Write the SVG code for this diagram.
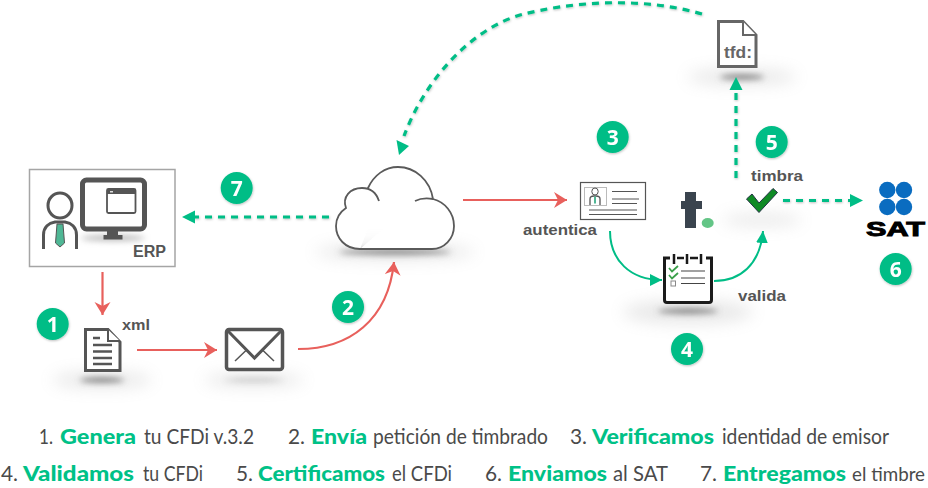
<svg xmlns="http://www.w3.org/2000/svg" width="928" height="488" viewBox="0 0 928 488">
<style>
.g{fill:#00bd86}
.ink{fill:none;stroke:#555;stroke-width:3}
.thin{fill:none;stroke:#555;stroke-width:1.3}
.lbl{font-family:"Liberation Sans",Arial,sans-serif;font-weight:700;fill:#555;font-size:15px}
.num{font-family:"Open Sans","Liberation Sans",sans-serif;font-weight:700;fill:#fff;font-size:21px;text-anchor:middle}
.t{font-family:"Lato","Open Sans",sans-serif;font-size:21px;fill:#4a4a4a}
.b{font-family:"Lato","Open Sans",sans-serif;font-size:21px;font-weight:900;fill:#00c187}
.red{fill:none;stroke:#e8605c;stroke-width:2.2;marker-end:url(#ar)}
.gd{fill:none;stroke:#00bd86;stroke-width:3.2;stroke-dasharray:7 6;filter:url(#ds)}
.gs{fill:none;stroke:#00bd86;stroke-width:2;marker-end:url(#ag)}
.sh{fill:#777;filter:url(#bl)}
.sh2{fill:#999;opacity:.22;filter:url(#bl2)}
</style>
<defs>
<filter id="bl" x="-50%" y="-200%" width="200%" height="500%"><feGaussianBlur stdDeviation="3"/></filter>
<filter id="bl2" x="-50%" y="-200%" width="200%" height="500%"><feGaussianBlur stdDeviation="8"/></filter>
<filter id="ds" filterUnits="userSpaceOnUse" x="0" y="0" width="928" height="488"><feDropShadow dx="0.5" dy="1" stdDeviation="0.8" flood-color="#000" flood-opacity=".25"/></filter>
<marker id="ar" markerUnits="userSpaceOnUse" markerWidth="18" markerHeight="18" refX="14" refY="8" orient="auto"><path d="M1,0 L14,8 L1,16 L5,8 Z" fill="#e8605c"/></marker>
<marker id="ag" markerUnits="userSpaceOnUse" markerWidth="14" markerHeight="14" refX="12" refY="6" orient="auto"><path d="M0,0 L12,6 L0,12 Z" fill="#00bd86"/></marker>
</defs>
<rect width="928" height="488" fill="#fff"/>

<g id="shadows">
<ellipse class="sh2" cx="102" cy="380" rx="50" ry="8"/>
<ellipse class="sh2" cx="254" cy="380" rx="50" ry="7"/>
<ellipse class="sh2" cx="395" cy="252" rx="80" ry="8"/>
<ellipse class="sh2" cx="688" cy="312" rx="65" ry="12"/>
<ellipse class="sh2" cx="742" cy="77" rx="55" ry="8"/>
<ellipse class="sh2" cx="762" cy="220" rx="40" ry="6"/>
<ellipse class="sh" cx="102" cy="380" rx="22" ry="2.5"/>
<ellipse class="sh" cx="254" cy="380" rx="30" ry="1.5" opacity=".45"/>
<ellipse class="sh" cx="395" cy="252" rx="56" ry="2.5"/>
<ellipse class="sh" cx="688" cy="311" rx="30" ry="2.5"/>
<ellipse class="sh" cx="742" cy="77" rx="22" ry="2.5"/>
</g>

<g id="connectors">
<path class="red" d="M102.500,272 V315"/>
<path class="red" d="M137,350 H217"/>
<path class="red" d="M298,349 C350,349 388,320 394,262"/>
<path class="red" d="M463,200 H567"/>
<path class="gd" d="M702,14 C640,-4 570,2 520,15 C470,30 425,80 404,136"/>
<path d="M399,155 L396.500,140 L409,146 Z" class="g"/>
<path class="gd" d="M329,217 H194"/>
<path d="M182,217 L195,210.500 V223.500 Z" class="g"/>
<path class="gd" d="M736,178 V90"/>
<path d="M736,77 L742.500,90 H729.500 Z" class="g"/>
<path class="gd" d="M783,200.500 H850"/>
<path d="M863,200.500 L850,194 V207 Z" class="g"/>
<path class="gs" d="M610,231 C610,260 630,280 662,280"/>
<path class="gs" d="M714,281 C740,281 760,265 763,231"/>
</g>

<g id="erp">
<rect x="29.500" y="169.500" width="145.500" height="97" fill="#fff" stroke="#a5a5a5" stroke-width="1.500"/>
<ellipse cx="113" cy="238" rx="32" ry="2.500" fill="#aaa" filter="url(#bl)"/>
<rect x="82.500" y="180" width="62" height="49" rx="4" fill="#fff" stroke="#555" stroke-width="5"/>
<rect x="107" y="229" width="11" height="7" fill="#555"/>
<rect x="103.500" y="235" width="19" height="4.500" fill="#555"/>
<rect x="107" y="189" width="28.500" height="24" rx="1.500" fill="#fff" stroke="#555" stroke-width="1.800"/>
<rect x="107" y="189" width="28.500" height="5" fill="#555"/>
<rect x="110" y="191" width="3" height="1.500" fill="#ddd"/>
<ellipse cx="60" cy="205.500" rx="12" ry="12.500" fill="#fff" stroke="#555" stroke-width="3"/>
<path class="ink" d="M43.500,249 V235 C43.500,227 49,223 55,222 H65 C71,223 76.500,227 76.500,235 V249"/>
<path d="M57,224 H63 L64.500,243 L60,247 L55.500,243 Z" fill="#4fb795" stroke="#555" stroke-width="1"/>
<text class="lbl" x="133" y="257" textLength="33" lengthAdjust="spacingAndGlyphs" style="font-size:16px">ERP</text>
</g>

<g id="xml-doc">
<path d="M85.500,329.500 H108 L120,342 V370.500 H85.500 Z" fill="#fff" stroke="#555" stroke-width="3"/>
<path d="M108,329.500 V341 H120" fill="#fff" stroke="#555" stroke-width="2"/>
<path d="M93,338 H100 M93,345 H112 M93,351.500 H112 M93,358 H112 M93,364 H112" stroke="#555" stroke-width="2.500" fill="none"/>
<text class="lbl" x="122" y="330" textLength="28" lengthAdjust="spacingAndGlyphs">xml</text>
</g>

<g id="envelope">
<rect x="226.500" y="329.500" width="56" height="40" rx="2.500" fill="#fff" stroke="#555" stroke-width="3.500"/>
<path d="M228,331 L254.500,358 L281,331" fill="none" stroke="#555" stroke-width="3"/>
<path d="M235,361 L246.500,350 M274,361 L262.500,350" stroke="#555" stroke-width="1.500" fill="none"/>
</g>

<g id="cloud">
<path d="M360,249 C345,249 336,238 336,226 C336,218 340,212 346,208 C342,197 350,188 362,188 C370,188 376,192 379,201 M368,188 C374,175 385,167 398,167 C415,167 430,180 433,199 M415,201 C421,198 427,198 433,199 C445,202 454,213 454,226 C454,239 444,249 432,249 H360" fill="#fff" stroke="#5a5a5a" stroke-width="1.800"/>
</g>

<g id="idcard">
<rect x="580.500" y="182.500" width="65" height="37" fill="#fff" stroke="#555" stroke-width="1.200"/>
<rect x="584.500" y="187.500" width="22" height="18" fill="#fff" stroke="#bbb" stroke-width="1"/>
<ellipse cx="595" cy="191.500" rx="3.200" ry="3.500" fill="none" stroke="#555" stroke-width="1"/>
<path d="M590,205 V199 C590,197 592,196 594,196 H596 C598,196 600,197 600,199 V205" class="thin"/>
<path d="M594,196.500 H596 V203 L595,204 L594,203 Z" fill="#4fb795"/>
<path d="M612,191.500 H637 M612,199 H639 M612,203.500 H637 M589,210 H637 M589,214.500 H637" stroke="#555" stroke-width="1" fill="none"/>
<text class="lbl" x="523" y="235" textLength="74" lengthAdjust="spacingAndGlyphs">autentica</text>
</g>

<g id="logo-t">
<path d="M685,192 H696 V201 H702 V209 H696 V228 H685 V209 H681 V201 H685 Z" fill="#3a444e"/>
<ellipse cx="707.700" cy="223" rx="6" ry="5" fill="#63c586"/>
</g>

<g id="clipboard">
<path d="M670,258 H664.500 V300 Q664.500,302.500 667,302.500 H709 Q711.500,302.500 711.500,300 V258 H706" fill="#fff" stroke="#1a1a1a" stroke-width="3"/>
<path d="M674,254 V264 M687,254 V264 M701,254 V264 M677,258 H684 M690,258 H698" stroke="#1a1a1a" stroke-width="2.500" fill="none"/>
<path d="M681,271 H705 M681,278 H705 M681,283.500 H705" stroke="#444" stroke-width="1.200" fill="none"/>
<path d="M669,268 L672,271.500 L678,266 M669,275 L672,278.500 L678,273" stroke="#3aa04a" stroke-width="1.800" fill="none"/>
<rect x="671" y="281" width="4.500" height="5" fill="#fff" stroke="#888" stroke-width="1"/>
<text class="lbl" x="738" y="301" textLength="48" lengthAdjust="spacingAndGlyphs">valida</text>
</g>

<g id="check">
<path d="M746.500,199 L759,212.500 L777.500,192.500 L773,188.500 L759,203 L752,194 Z" fill="#0f8a25" stroke="#234" stroke-width="1"/>
<text class="lbl" x="751" y="181" textLength="52" lengthAdjust="spacingAndGlyphs">timbra</text>
</g>

<g id="tfd">
<path d="M718.500,21.500 H743 L756,35 V66.500 H718.500 Z" fill="#fff" stroke="#666" stroke-width="3"/>
<path d="M743,21.500 V35 H756" fill="#fff" stroke="#666" stroke-width="2"/>
<text class="lbl" x="724" y="58" textLength="28" lengthAdjust="spacingAndGlyphs" style="font-size:17px;fill:#666">tfd:</text>
</g>

<g id="sat">
<circle cx="887.300" cy="190" r="8.200" fill="#0a6cc0"/>
<circle cx="904" cy="190" r="8.200" fill="#0a6cc0"/>
<circle cx="887.300" cy="207" r="8.200" fill="#0a6cc0"/>
<circle cx="904" cy="207" r="8.200" fill="#0a6cc0"/>
<text x="866" y="236" textLength="59" lengthAdjust="spacingAndGlyphs" font-family="Liberation Sans, Arial, sans-serif" font-weight="700" font-size="21" fill="#000" stroke="#000" stroke-width="1">SAT</text>
</g>

<g id="badges" filter="url(#ds)">
<circle class="g" cx="52.700" cy="324" r="16"/><text class="num" x="52.700" y="331.500">1</text>
<circle class="g" cx="348" cy="307" r="16"/><text class="num" x="348" y="314.500">2</text>
<circle class="g" cx="612.700" cy="137" r="16"/><text class="num" x="612.700" y="144.500">3</text>
<circle class="g" cx="687" cy="349" r="16"/><text class="num" x="687" y="356.500">4</text>
<circle class="g" cx="771.700" cy="142" r="16"/><text class="num" x="771.700" y="149.500">5</text>
<circle class="g" cx="895.700" cy="269" r="16"/><text class="num" x="895.700" y="276.500">6</text>
<circle class="g" cx="236.700" cy="188" r="16"/><text class="num" x="236.700" y="195.500">7</text>
</g>

<g id="legend">
<text class="t" x="39" y="444" textLength="14" lengthAdjust="spacingAndGlyphs">1.</text>
<text class="b" x="60" y="444" textLength="76" lengthAdjust="spacingAndGlyphs">Genera</text>
<text class="t" x="144" y="444" textLength="110" lengthAdjust="spacingAndGlyphs">tu CFDi v.3.2</text>
<text class="t" x="288" y="444" textLength="17" lengthAdjust="spacingAndGlyphs">2.</text>
<text class="b" x="311" y="444" textLength="56" lengthAdjust="spacingAndGlyphs">Envía</text>
<text class="t" x="373" y="444" textLength="175" lengthAdjust="spacingAndGlyphs">petición de timbrado</text>
<text class="t" x="570" y="444" textLength="17" lengthAdjust="spacingAndGlyphs">3.</text>
<text class="b" x="592" y="444" textLength="122" lengthAdjust="spacingAndGlyphs">Verificamos</text>
<text class="t" x="722" y="444" textLength="167" lengthAdjust="spacingAndGlyphs">identidad de emisor</text>
<text class="t" x="1" y="481" textLength="17" lengthAdjust="spacingAndGlyphs">4.</text>
<text class="b" x="23" y="481" textLength="111" lengthAdjust="spacingAndGlyphs">Validamos</text>
<text class="t" x="143" y="481" textLength="60" lengthAdjust="spacingAndGlyphs">tu CFDi</text>
<text class="t" x="236" y="481" textLength="17" lengthAdjust="spacingAndGlyphs">5.</text>
<text class="b" x="258" y="481" textLength="127" lengthAdjust="spacingAndGlyphs">Certificamos</text>
<text class="t" x="392" y="481" textLength="60" lengthAdjust="spacingAndGlyphs">el CFDi</text>
<text class="t" x="485" y="481" textLength="17" lengthAdjust="spacingAndGlyphs">6.</text>
<text class="b" x="508" y="481" textLength="99" lengthAdjust="spacingAndGlyphs">Enviamos</text>
<text class="t" x="613" y="481" textLength="55" lengthAdjust="spacingAndGlyphs">al SAT</text>
<text class="t" x="700" y="481" textLength="17" lengthAdjust="spacingAndGlyphs">7.</text>
<text class="b" x="723" y="481" textLength="123" lengthAdjust="spacingAndGlyphs">Entregamos</text>
<text class="t" x="852" y="481" textLength="73" lengthAdjust="spacingAndGlyphs" style="font-size:19px">el timbre</text>
</g>
</svg>
